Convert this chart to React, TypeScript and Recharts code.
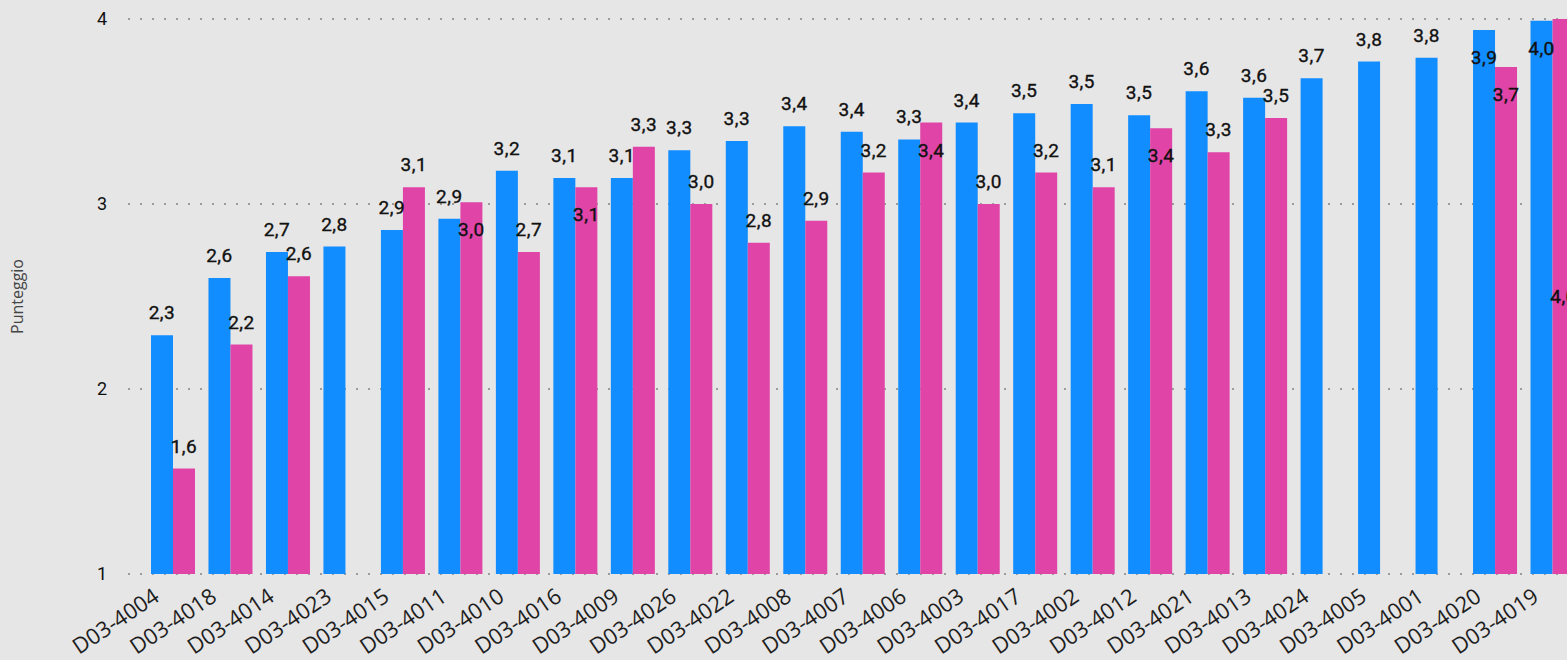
import { BarChart, Bar, XAxis, YAxis, CartesianGrid, LabelList } from "recharts";

const CATEGORIES = [
  "D03-4004", "D03-4018", "D03-4014", "D03-4023", "D03-4015", "D03-4011", "D03-4010",
  "D03-4016", "D03-4009", "D03-4026", "D03-4022", "D03-4008", "D03-4007", "D03-4006",
  "D03-4003", "D03-4017", "D03-4002", "D03-4012", "D03-4021", "D03-4013", "D03-4024",
  "D03-4005", "D03-4001", "D03-4020", "D03-4019",
];
// blue series
const SERIES_A = [
  2.29, 2.6, 2.74, 2.77, 2.86, 2.92, 3.18, 3.14, 3.14, 3.29, 3.34, 3.42, 3.39, 3.349,
  3.44, 3.49, 3.54, 3.48, 3.61, 3.575, 3.68, 3.77, 3.79, 3.94, 3.99,
];
// pink series (null = no bar)
const SERIES_B = [
  1.57, 2.24, 2.61, null, 3.09, 3.01, 2.74, 3.09, 3.31, 3.0, 2.79, 2.91, 3.17, 3.44,
  3.0, 3.17, 3.09, 3.41, 3.28, 3.465, null, null, null, 3.74, 4.0,
];
const Y_TICKS = [1, 2, 3, 4];

const BLUE = "#118DFF";
const PINK = "#E044A7";
const BG = "#E6E6E6";
const PLOT_TOP = 19;
const LABEL_FONT = "Roboto, 'DejaVu Sans', sans-serif";
const AXIS_FONT = "'Open Sans', 'Noto Sans', sans-serif";

const data = CATEGORIES.map((name, i) => ({ name, a: SERIES_A[i], b: SERIES_B[i] }));

// LabelList skips empty entries, so map its index back to the category
const A_IDX = SERIES_A.map((v, i) => (v == null ? -1 : i)).filter((i) => i >= 0);
const B_IDX = SERIES_B.map((v, i) => (v == null ? -1 : i)).filter((i) => i >= 0);

const fmt = (v: number) => v.toFixed(1).replace(".", ",");

// baseline of a label above the bar, or inside when it would not fit
function blueBaseline(top: number) {
  return top - 16 - 13 >= PLOT_TOP ? top - 16 : top + 34;
}

function geom(props: any) {
  const vb = props.viewBox && typeof props.viewBox.x === "number" ? props.viewBox : props;
  return { x: Number(vb.x), y: Number(vb.y), width: Number(vb.width), height: Number(vb.height) };
}

function DataText({ x, y, children }: { x: number; y: number; children: any }) {
  return (
    <text x={x} y={y} textAnchor="middle" fill="#111" stroke="#111" strokeWidth={0.35}
      fontSize={19} fontFamily={LABEL_FONT} letterSpacing={0.5}>
      {children}
    </text>
  );
}

function BlueLabel(props: any) {
  const i = A_IDX[props.index];
  const v = SERIES_A[i];
  if (v == null) return null;
  const { x, y, width } = geom(props);
  return <DataText x={x + width / 2} y={blueBaseline(y)}>{fmt(v)}</DataText>;
}

function PinkLabel(props: any) {
  const i = B_IDX[props.index];
  const v = SERIES_B[i];
  if (v == null) return null;
  const { x, y, width, height } = geom(props);
  const bottom = y + height;
  const ppu = height / (v - 1);
  const blueTop = bottom - (SERIES_A[i] - 1) * ppu;
  const blueBase = blueBaseline(blueTop);
  let base = y - 16;
  if (base - 13 < PLOT_TOP || Math.abs(base - blueBase) < 18.5) {
    base = y + 34;
    if (Math.abs(base - blueBase) < 18.5) base = y + height / 2 + 6;
  }
  return <DataText x={x + width / 2} y={base}>{fmt(v)}</DataText>;
}

function CategoryTick(props: any) {
  const { x, y, payload } = props;
  return (
    <g transform={`translate(${x - 12},${y + 26})`}>
      <text x={0} y={0} textAnchor="end" transform="rotate(-34)" fill="#1e1e1e"
        fontSize={22} fontFamily={AXIS_FONT}>
        {payload.value}
      </text>
    </g>
  );
}

function YTitle(props: any) {
  const vb = props.viewBox;
  const cy = vb.y + vb.height / 2;
  return (
    <text x={17} y={cy} transform={`rotate(-90, 17, ${cy})`} textAnchor="middle"
      dominantBaseline="central" fill="#444" fontSize={16} fontFamily={AXIS_FONT}>
      Punteggio
    </text>
  );
}

export default function App() {
  return (
    <div style={{ position: "fixed", left: 0, top: 0, width: 1567, height: 660, overflow: "hidden", background: BG }}>
      <BarChart width={1600} height={660} data={data} barGap={0} barSize={22}
        margin={{ top: PLOT_TOP, right: 19, bottom: 0, left: 0 }}>
        <CartesianGrid vertical={false} stroke="#9c9c9c" strokeWidth={2} strokeDasharray="2 10" />
        <XAxis dataKey="name" interval={0} height={86} tick={<CategoryTick />}
          tickLine={false} axisLine={false} tickSize={0} tickMargin={0} padding={{ left: 16, right: 0 }} />
        <YAxis domain={[1, 4]} ticks={Y_TICKS} width={128} tickLine={false} axisLine={false}
          tickSize={0} tickMargin={21} allowDataOverflow
          tick={{ fill: "#111", fontSize: 18, fontFamily: LABEL_FONT }}
          label={{ content: <YTitle /> } as any} />
        <Bar dataKey="a" fill={BLUE} isAnimationActive={false}>
          <LabelList dataKey="a" content={<BlueLabel />} />
        </Bar>
        <Bar dataKey="b" fill={PINK} isAnimationActive={false}>
          <LabelList dataKey="b" content={<PinkLabel />} />
        </Bar>
      </BarChart>
    </div>
  );
}
